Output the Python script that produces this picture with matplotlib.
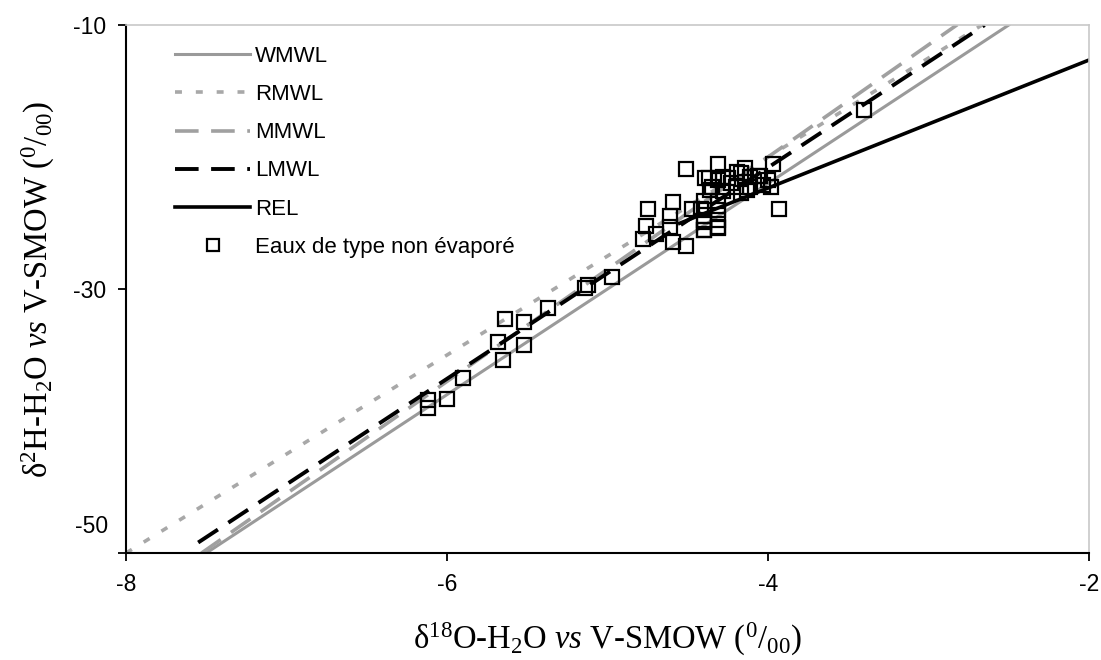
import numpy as np
import matplotlib
matplotlib.use("Agg")
import matplotlib.pyplot as plt

# measured samples (delta 18O, delta 2H)
d18o = [-3.40,
        -6.12, -6.12, -6.00, -5.90, -5.65, -5.68, -5.52, -5.64, -5.52, -5.37,
        -5.12, -5.14, -4.97,
        -4.51, -4.31, -4.14, -3.97, -4.75, -4.59, -4.47, -3.93, -4.76, -4.61,
        -4.61, -4.78, -4.70, -4.59, -4.51,
        -4.40, -4.40, -4.39, -4.31, -4.31, -4.37, -4.28, -4.23, -4.17, -4.11,
        -4.05, -4.00, -3.98, -4.11, -4.03, -4.36, -4.28, -4.17, -4.40, -4.31,
        -4.40, -4.31, -4.40, -4.31, -4.40, -4.31, -4.25, -4.20, -4.13, -4.06,
        -4.19, -4.42, -4.35]
d2h = [-16.4,
       -38.4, -39.0, -38.3, -36.7, -35.4, -34.0, -34.2, -32.3, -32.5, -31.4,
       -29.7, -29.9, -29.1,
       -20.9, -20.5, -20.8, -20.5, -23.9, -23.4, -23.9, -23.9, -25.2, -24.5,
       -25.3, -26.2, -25.8, -26.4, -26.7,
       -25.5, -24.9, -21.6, -21.7, -25.3, -21.6, -21.5, -22.0, -21.2, -21.5,
       -21.4, -21.7, -22.3, -22.3, -22.1, -22.5, -22.6, -22.7, -23.3, -23.3,
       -24.0, -24.0, -24.8, -24.8, -25.5, -25.4, -21.6, -22.3, -22.5, -21.4,
       -21.1, -23.9, -22.3]

# water lines: slope, intercept, x range
wmwl = (8.0, 10.0, -7.5, -2.5)
rmwl = (7.5, 10.0, -8.0, -2.67)
mmwl = (8.5, 14.0, -7.53, -2.82)
lmwl = (8.0, 11.2, -7.55, -2.65)
rel = (4.85, -2.95, -4.55, -2.0)

plt.rcParams['lines.scale_dashes'] = False
plt.rcParams['axes.unicode_minus'] = False
plt.rcParams['font.family'] = 'Liberation Sans'
plt.rcParams['mathtext.fontset'] = 'custom'
plt.rcParams['mathtext.rm'] = 'Liberation Serif'
plt.rcParams['mathtext.it'] = 'Liberation Serif:italic'

fig = plt.figure(figsize=(11.01, 6.6), dpi=100)
ax = fig.add_axes([0.1144, 0.162, 0.8746, 0.800])


def line(p, **kw):
    xs = np.array([p[2], p[3]])
    ax.plot(xs, p[0] * xs + p[1], **kw)


line(wmwl, color='#9a9a9a', lw=2.2, label='WMWL')
line(rmwl, color='#a8a8a8', lw=2.6, dashes=(5, 10), label='RMWL')
line(mmwl, color='#a0a0a0', lw=2.6, dashes=(17, 9), label='MMWL')
line(lmwl, color='black', lw=2.8, dashes=(17, 9), label='LMWL')
line(rel, color='black', lw=2.6, label='REL')
ax.plot(d18o, d2h, ls='none', marker='s', ms=10.5, mfc='none', mec='black',
        mew=1.6, label='Eaux de type non évaporé')

ax.set_xlim(-8, -2)
ax.set_ylim(-50, -10)
ax.set_xticks([-8, -6, -4, -2])
ax.set_yticks([-50, -30, -10])
ax.set_yticklabels(['', '-30', '-10'])
ax.text(-0.019, -48.0, '-50', transform=ax.get_yaxis_transform(),
        ha='right', va='center', fontsize=16.5)
ax.tick_params(labelsize=16.5, length=6, width=1.3, direction='out', pad=8)
for s in ['left', 'bottom']:
    ax.spines[s].set_linewidth(1.5)
for s in ['top', 'right']:
    ax.spines[s].set_color('#c8c8c8')
    ax.spines[s].set_linewidth(1.2)

serif = 'Liberation Serif'
ax.set_xlabel(r'δ$^{18}$O-H$_2$O $vs$ V-SMOW ($^{0}/_{00}$)',
              fontsize=23.5, labelpad=18, family=serif)
ax.set_ylabel(r'δ$^{2}$H-H$_2$O $vs$ V-SMOW ($^{0}/_{00}$)',
              fontsize=23.5, labelpad=12, family=serif)

ax.legend(loc='upper left', bbox_to_anchor=(0.03, 0.998), frameon=False,
          fontsize=16, handlelength=3.4, handletextpad=0.2,
          labelspacing=0.77, markerscale=0.85)

fig.savefig('out.png', dpi=100)
